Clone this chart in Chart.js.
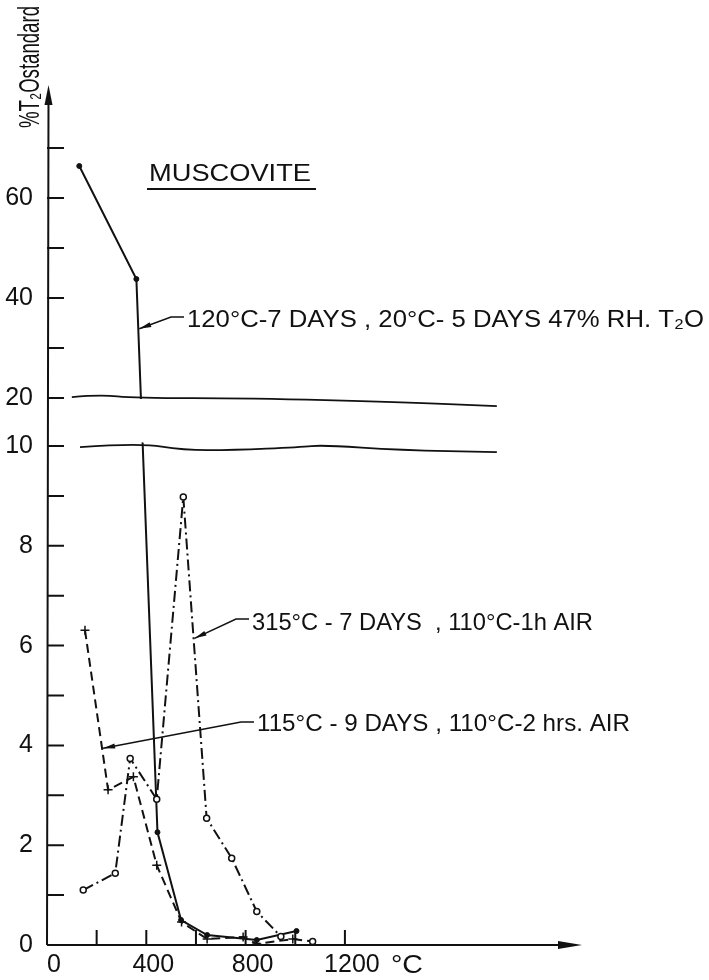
<!DOCTYPE html>
<html>
<head>
<meta charset="utf-8">
<script src="https://cdn.jsdelivr.net/npm/chart.js@4.4.1/dist/chart.umd.min.js"></script>
<style>
  html, body { margin: 0; padding: 0; background: #fff; }
  #wrap { width: 709px; height: 980px; position: relative; }
</style>
</head>
<body>
<div id="wrap"><canvas id="chart"></canvas></div>
<script>
// values (°C, % of T2O standard)
const temp120 = [130, 360, 445, 540, 645, 845, 1005];
const pct120 = [66.4, 43.8, 2.26, 0.5, 0.2, 0.1, 0.28];

const temp315 = [146, 275, 335, 442, 549, 643, 744, 845, 942];
const pct315 = [1.1, 1.44, 3.74, 2.92, 8.98, 2.54, 1.74, 0.67, 0.17];

const temp115 = [153, 246, 348, 442, 542, 645, 790, 845, 990, 1070];
const pct115 = [6.31, 3.11, 3.37, 1.6, 0.46, 0.12, 0.16, 0.02, 0.12, 0.07];

const yTicks = [0, 1, 2, 3, 4, 5, 6, 7, 8, 9, 10, 20, 30, 40, 50, 60, 70];
const yLabels = [0, 2, 4, 6, 8, 10, 20, 40, 60];
const xTicks = [0, 200, 400, 600, 800, 1000, 1200];
const xLabels = [0, 400, 800, 1200];

const names = [
  '120°C-7 DAYS , 20°C- 5 DAYS 47% RH. T₂O',
  '315°C - 7 DAYS  , 110°C-1h AIR',
  '115°C - 9 DAYS , 110°C-2 hrs. AIR'
];

const ink = '#111';
const FONT = '"Liberation Sans", Arial, sans-serif';

// y axis with a break between 10 and 20
class BrokenLinearScale extends Chart.LinearScale {
  static id = 'brokenLinear';
  static defaults = {};

  buildTicks() {
    return yTicks.map(value => ({ value }));
  }

  toDecimal(v) {
    const o = this.options;
    if (v <= o.breakLow) return v / o.breakLow * o.lowerShare;
    if (v >= o.breakHigh) return o.upperStart + (v - o.breakHigh) / (this.max - o.breakHigh) * (1 - o.upperStart);
    return o.lowerShare + (v - o.breakLow) / (o.breakHigh - o.breakLow) * (o.upperStart - o.lowerShare);
  }

  getPixelForValue(value) {
    return this.getPixelForDecimal(this.toDecimal(+value));
  }

  getValueForPixel(pixel) {
    const o = this.options;
    const d = this.getDecimalForPixel(pixel);
    if (d <= o.lowerShare) return d / o.lowerShare * o.breakLow;
    if (d >= o.upperStart) return o.breakHigh + (d - o.upperStart) / (1 - o.upperStart) * (this.max - o.breakHigh);
    return o.breakLow + (d - o.lowerShare) / (o.upperStart - o.lowerShare) * (o.breakHigh - o.breakLow);
  }
}
Chart.register(BrokenLinearScale);

// break line shapes: [°C, px offset]
const upperWave = [[100, -1], [213, -3.5], [354, 0], [818, 0], [1422, 4], [1812, 8]];
const lowerWave = [[133, 1], [375, -3], [548, 4], [749, 4], [1019, 1], [1112, -1], [1422, 4], [1812, 6]];

// leader arrows: dataset index, segment, position along segment, text anchor
const notes = [
  { ds: 2, name: 0, seg: 1, t: 0.09, x: 187, y: 327, w: 517, dy: 10 },
  { ds: 1, name: 1, seg: 4, t: 0.44, x: 252, y: 630, w: 341, dy: 11 },
  { ds: 0, name: 2, seg: 0, t: 0.74, x: 257, y: 731, w: 373, dy: 9 }
];

function fitText(ctx, text, x, y, width) {
  const w = ctx.measureText(text).width;
  ctx.save();
  ctx.translate(x, y);
  ctx.scale(width / w, 1);
  ctx.fillText(text, 0, 0);
  ctx.restore();
}

function arrowHead(ctx, fx, fy, tx, ty, len, half) {
  const a = Math.atan2(ty - fy, tx - fx);
  ctx.beginPath();
  ctx.moveTo(tx, ty);
  ctx.lineTo(tx - len * Math.cos(a) + half * Math.sin(a), ty - len * Math.sin(a) - half * Math.cos(a));
  ctx.lineTo(tx - len * Math.cos(a) - half * Math.sin(a), ty - len * Math.sin(a) + half * Math.cos(a));
  ctx.closePath();
  ctx.fill();
}

function wavePath(ctx, pts) {
  ctx.moveTo(pts[0][0], pts[0][1]);
  for (let i = 1; i < pts.length - 1; i++) {
    ctx.quadraticCurveTo(pts[i][0], pts[i][1], (pts[i][0] + pts[i + 1][0]) / 2, (pts[i][1] + pts[i + 1][1]) / 2);
  }
  const last = pts[pts.length - 1];
  ctx.lineTo(last[0], last[1]);
}

const decor = {
  id: 'decor',
  afterDatasetsDraw(chart) {
    const { ctx, chartArea: area, scales: { x, y } } = chart;
    const x0 = x.getPixelForValue(0);
    const yb = y.getPixelForValue(0);
    ctx.save();

    // axis break: blank the band, then the two wavy lines
    const yHi = y.getPixelForValue(y.options.breakHigh);
    const yLo = y.getPixelForValue(y.options.breakLow);
    const up = upperWave.map(([t, d]) => [x.getPixelForValue(t), yHi + d]);
    const lo = lowerWave.map(([t, d]) => [x.getPixelForValue(t), yLo + d]);
    ctx.fillStyle = '#fff';
    ctx.beginPath();
    ctx.moveTo(x0 + 2, yHi + 1);
    up.forEach(p => ctx.lineTo(p[0], p[1] + 1));
    lo.slice().reverse().forEach(p => ctx.lineTo(p[0], p[1] - 1));
    ctx.lineTo(x0 + 2, yLo - 1);
    ctx.closePath();
    ctx.fill();

    ctx.strokeStyle = ink;
    ctx.fillStyle = ink;
    ctx.lineWidth = 1.8;
    ctx.beginPath(); wavePath(ctx, up); ctx.stroke();
    ctx.beginPath(); wavePath(ctx, lo); ctx.stroke();

    // axes with arrows
    ctx.lineWidth = 2;
    ctx.beginPath();
    ctx.moveTo(x0, yb); ctx.lineTo(x0 + 1.5, area.top + 10);
    ctx.moveTo(x0, yb); ctx.lineTo(area.right - 10, yb);
    ctx.stroke();
    arrowHead(ctx, x0 + 1.5, yb, x0 + 1.5, area.top, 20, 4);
    arrowHead(ctx, x0, yb, area.right, yb, 24, 4);

    // inward tick marks
    ctx.lineWidth = 2;
    ctx.beginPath();
    y.ticks.forEach(tk => {
      if (tk.value === 0) return;
      const py = y.getPixelForValue(tk.value);
      ctx.moveTo(x0, py); ctx.lineTo(x0 + 17, py);
    });
    x.ticks.forEach(tk => {
      if (tk.value === 0) return;
      const px = x.getPixelForValue(tk.value);
      ctx.moveTo(px, yb); ctx.lineTo(px, yb - 15);
    });
    ctx.stroke();

    // unit after the last x label
    ctx.font = '25px ' + FONT;
    ctx.textBaseline = 'alphabetic';
    ctx.textAlign = 'left';
    fitText(ctx, '°C', x.getPixelForValue(1200) + 46, 973, 32);

    // y axis title, rotated
    ctx.save();
    ctx.translate(39, 128);
    ctx.rotate(-Math.PI / 2);
    ctx.font = '29px ' + FONT;
    fitText(ctx, '%T₂Ostandard', 0, 0, 122);
    ctx.restore();

    // MUSCOVITE heading
    ctx.font = '24px ' + FONT;
    fitText(ctx, 'MUSCOVITE', 149, 181, 162);
    ctx.lineWidth = 2;
    ctx.beginPath(); ctx.moveTo(147, 189); ctx.lineTo(316, 189); ctx.stroke();

    // labels with leader arrows onto their curves
    ctx.lineWidth = 1.5;
    notes.forEach(n => {
      const pts = chart.getDatasetMeta(n.ds).data;
      const a = pts[n.seg], b = pts[n.seg + 1];
      const tx = a.x + (b.x - a.x) * n.t + 1, ty = a.y + (b.y - a.y) * n.t;
      const ly = n.y - n.dy;
      ctx.beginPath();
      ctx.moveTo(n.x - 3, ly); ctx.lineTo(n.x - 16, ly); ctx.lineTo(tx, ty);
      ctx.stroke();
      arrowHead(ctx, n.x - 16, ly, tx, ty, 12, 2.6);
      ctx.font = '24px ' + FONT;
      fitText(ctx, names[n.name], n.x, n.y, n.w);
    });

    ctx.restore();
  }
};

const pts = (xs, ys) => xs.map((v, i) => ({ x: v, y: ys[i] }));

new Chart(document.getElementById('chart'), {
  type: 'line',
  data: {
    datasets: [
      {
        label: names[2],
        data: pts(temp115, pct115),
        borderColor: ink, borderWidth: 2, borderDash: [9, 5],
        pointStyle: temp115.map((_, i) => i === temp115.length - 1 ? 'circle' : 'cross'),
        pointRadius: temp115.map((_, i) => i === temp115.length - 1 ? 3 : 4.5),
        pointBorderWidth: 1.5, pointBorderColor: ink, pointBackgroundColor: '#fff'
      },
      {
        label: names[1],
        data: pts(temp315, pct315),
        borderColor: ink, borderWidth: 2, borderDash: [11, 4, 2, 4],
        pointStyle: 'circle', pointRadius: 3, pointBorderWidth: 1.5,
        pointBorderColor: ink, pointBackgroundColor: '#fff'
      },
      {
        label: names[0],
        data: pts(temp120, pct120),
        borderColor: ink, borderWidth: 2,
        pointStyle: 'circle', pointRadius: 2.5, pointBorderWidth: 1,
        pointBorderColor: ink, pointBackgroundColor: ink
      }
    ]
  },
  options: {
    responsive: true,
    maintainAspectRatio: false,
    animation: false,
    devicePixelRatio: 1,
    layout: { padding: { top: 85, right: 127, left: 0, bottom: 0 } },
    elements: { line: { tension: 0, fill: false } },
    plugins: { legend: { display: false }, tooltip: { enabled: false } },
    scales: {
      x: {
        type: 'linear', min: 0, max: 2155,
        afterBuildTicks: s => { s.ticks = xTicks.map(value => ({ value })); },
        afterFit: s => { s.height = 35; },
        grid: { display: false, drawTicks: false },
        border: { display: false },
        ticks: {
          autoSkip: false, maxRotation: 0, padding: 5, labelOffset: 7, color: ink,
          font: { family: FONT, size: 25 },
          callback: v => xLabels.includes(v) ? String(v) : ''
        }
      },
      y: {
        type: 'brokenLinear', min: 0, max: 82.6,
        breakLow: 10, breakHigh: 20, lowerShare: 0.5802, upperStart: 0.636,
        afterFit: s => { s.width = 47; },
        grid: { display: false, drawTicks: false },
        border: { display: false },
        ticks: {
          autoSkip: false, padding: 14, color: ink,
          font: { family: FONT, size: 25 },
          callback: v => yLabels.includes(v) ? String(v) : ''
        }
      }
    }
  },
  plugins: [decor]
});
</script>
</body>
</html>
